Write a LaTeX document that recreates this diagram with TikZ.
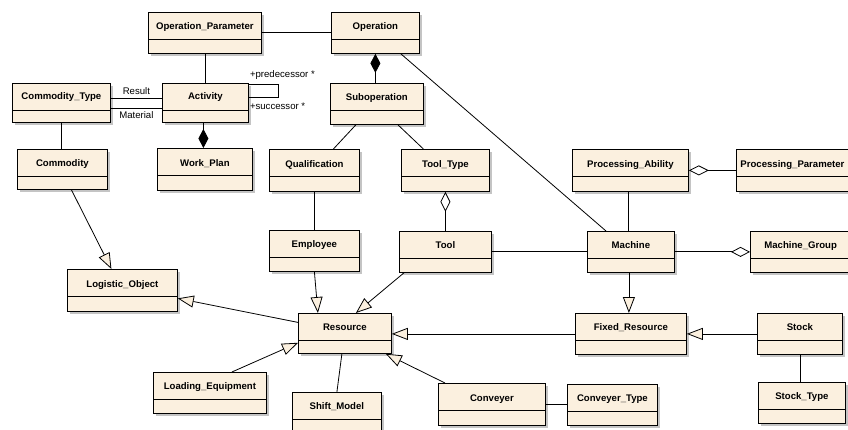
\documentclass[tikz,border=0pt]{standalone}
\usepackage{fontspec}
\setmainfont{Liberation Sans}
\usepackage{xcolor}
\usetikzlibrary{arrows.meta,shadows}
\definecolor{UFill}{HTML}{FBF0DF}
\definecolor{UShadow}{HTML}{C4C4C4}

\begin{document}
\begin{tikzpicture}[
  x=1pt,y=-1pt,
  every node/.style={font=\fontsize{9.6}{11}\selectfont},
  umlclass/.style={draw,line width=0.8pt,fill=UFill,anchor=north west,
    font=\fontsize{9.6}{11}\selectfont\bfseries,
    minimum height=41pt,inner ysep=0pt,text height=7pt,text depth=13pt,
    drop shadow={shadow xshift=3pt,shadow yshift=-3pt,fill=UShadow,opacity=1},
    path picture={\draw[line width=0.8pt]
      ([yshift=-27pt]path picture bounding box.north west) --
      ([yshift=-27pt]path picture bounding box.north east);}},
  assoc/.style={line width=0.8pt},
  gen/.style={line width=0.8pt,-{Triangle[open,length=16pt,width=12pt,fill=UFill]}},
  comp/.style={line width=0.8pt,-{Diamond[length=19pt,width=10pt]}},
  compstart/.style={line width=0.8pt,{Diamond[length=19pt,width=10pt]}-},
  aggstart/.style={line width=0.8pt,{Diamond[open,length=20pt,width=10pt,fill=white]}-},
  agg/.style={line width=0.8pt,-{Diamond[open,length=19pt,width=10pt,fill=white]}}
]
  \useasboundingbox (0,0) rectangle (848,430);
  \clip (0,0) rectangle (848,430);

  % classes
  \node[umlclass,minimum width=113pt] (opp) at (148,12) {Operation\_Parameter};
  \node[umlclass,minimum width=88pt] (op) at (331,12) {Operation};
  \node[umlclass,minimum width=98pt,minimum height=39pt] (ctype) at (12,83) {Commodity\_Type};
  \node[umlclass,minimum width=86pt,minimum height=39pt] (act) at (162,83) {Activity};
  \node[umlclass,minimum width=93pt] (subop) at (330,83) {Suboperation};
  \node[umlclass,minimum width=90pt,minimum height=40pt] (comm) at (17,149) {Commodity};
  \node[umlclass,minimum width=95pt,minimum height=42pt] (wplan) at (157,148) {Work\_Plan};
  \node[umlclass,minimum width=90pt,minimum height=42pt] (qual) at (269,149) {Qualification};
  \node[umlclass,minimum width=88pt,minimum height=42pt] (ttype) at (401,149) {Tool\_Type};
  \node[umlclass,minimum width=116pt,minimum height=42pt] (pabil) at (572,149) {Processing\_Ability};
  \node[umlclass,minimum width=124pt,minimum height=42pt,text width=116pt,align=left] (ppar) at (736,149) {Processing\_Parameter};
  \node[umlclass,minimum width=90pt] (empl) at (269,230) {Employee};
  \node[umlclass,minimum width=92pt] (tool) at (399,231) {Tool};
  \node[umlclass,minimum width=87pt] (mach) at (587,231) {Machine};
  \node[umlclass,minimum width=130pt,text width=116pt,align=left] (mgroup) at (750,231) {\hspace*{7pt}Machine\_Group};
  \node[umlclass,minimum width=110pt,minimum height=42pt] (logobj) at (67,269) {Logistic\_Object};
  \node[umlclass,minimum width=93pt,minimum height=40pt] (res) at (298,313) {Resource};
  \node[umlclass,minimum width=111pt] (fixres) at (575,313) {Fixed\_Resource};
  \node[umlclass,minimum width=85pt] (stock) at (757,313) {Stock};
  \node[umlclass,minimum width=113pt] (loadeq) at (153,372) {Loading\_Equipment};
  \node[umlclass,minimum width=89pt] (shift) at (292,392) {Shift\_Model};
  \node[umlclass,minimum width=107pt,minimum height=42pt] (conv) at (438,383) {Conveyer};
  \node[umlclass,minimum width=90pt] (convt) at (567,384) {Conveyer\_Type};
  \node[umlclass,minimum width=87pt] (stockt) at (758,382) {Stock\_Type};

  % associations
  \draw[assoc] (opp.east) -- (op.west);
  \draw[assoc] (opp.south) -- (opp.south |- act.north);
  \draw[compstart] (op.south) -- (op.south |- subop.north);
  \draw[assoc] ([xshift=-19pt]op.south east) -- ([xshift=19pt]mach.north west);
  \draw[assoc] ([yshift=-1pt]act.north east) -- ++(30,0) -- ++(0,13)
    -- ([yshift=-14pt]act.north east);
  \node[anchor=south west,inner sep=1pt] (pred) at ([yshift=2pt]act.north east) {+predecessor *};
  \node[anchor=north west,inner sep=1pt] (succ) at ([yshift=-19pt]act.north east) {+successor *};
  \draw[assoc] ([yshift=-15pt]ctype.north east) --
    node[above,inner sep=3.5pt] {Result} ([yshift=-15pt]act.north west);
  \draw[assoc] ([yshift=-25pt]ctype.north east) --
    node[below,inner sep=3.5pt] {Material} ([yshift=-25pt]act.north west);
  \draw[comp] ([xshift=-2pt]act.south) -- ([xshift=-2pt]act.south |- wplan.north);
  \draw[assoc] (ctype.south) -- (ctype.south |- comm.north);
  \draw[gen] ([xshift=9pt]comm.south) -- ([xshift=-11pt]logobj.north);
  \draw[assoc] ([xshift=-21pt]subop.south) -- ([xshift=19pt]qual.north);
  \draw[assoc] ([xshift=21pt]subop.south) -- ([xshift=-22pt]ttype.north);
  \draw[assoc] (qual.south) -- (qual.south |- empl.north);
  \draw[gen] (empl.south) -- ([xshift=-27pt]res.north);
  \draw[gen] ([xshift=5pt]tool.south west) -- ([xshift=11pt]res.north);
  \draw[aggstart] (ttype.south) -- (ttype.south |- tool.north);
  \draw[assoc] (tool.east) -- (mach.west);
  \draw[aggstart] (pabil.east) -- (pabil.east -| ppar.west);
  \draw[assoc] ([xshift=-2pt]pabil.south) -- ([xshift=-2pt]pabil.south |- mach.north);
  \draw[agg] (mach.east) -- (mach.east -| mgroup.west);
  \draw[gen] ([xshift=-2pt]mach.south) -- ([xshift=-2pt]mach.south |- fixres.north);
  \draw[gen] (fixres.west) -- (fixres.west -| res.east);
  \draw[gen] (stock.west) -- (stock.west -| fixres.east);
  \draw[assoc] (stock.south) -- (stock.south |- stockt.north);
  \draw[gen] ([yshift=11pt]res.west) -- ([yshift=-8pt]logobj.east);
  \draw[gen] ([xshift=22pt]loadeq.north) -- ([yshift=11pt]res.south west);
  \draw[assoc] (shift.north) -- ([xshift=-3pt]res.south);
  \draw[gen] ([xshift=7pt]conv.north west) -- ([xshift=-6pt]res.south east);
  \draw[assoc] (conv.east) -- (conv.east -| convt.west);
\end{tikzpicture}
\end{document}
